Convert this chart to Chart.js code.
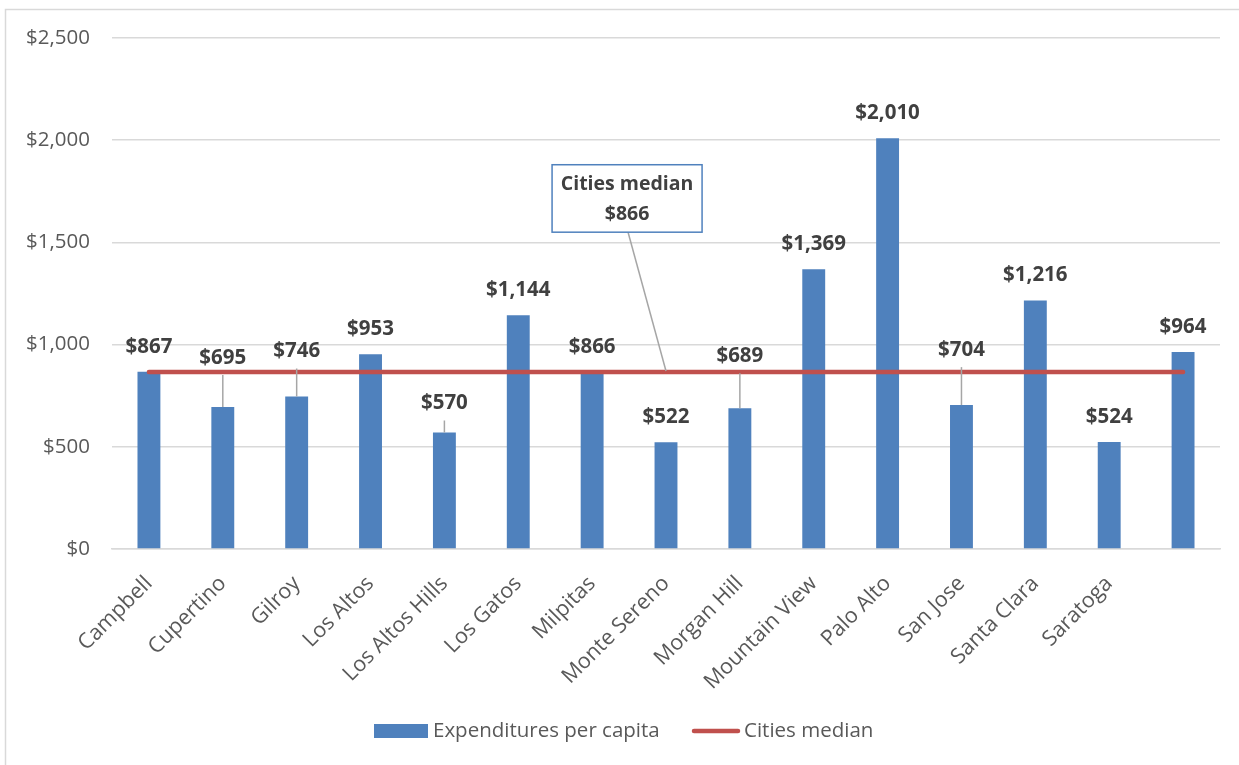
<!DOCTYPE html>
<html>
<head>
<meta charset="utf-8">
<script src="https://cdn.jsdelivr.net/npm/chart.js@4"></script>
<style>
  html, body { margin: 0; padding: 0; background: #fff; }
  #wrap { width: 1239px; height: 765px; }
</style>
</head>
<body>
<div id="wrap"><canvas id="chart" width="1239" height="765"></canvas></div>
<script>
const cities = ['Campbell', 'Cupertino', 'Gilroy', 'Los Altos', 'Los Altos Hills', 'Los Gatos', 'Milpitas',
  'Monte Sereno', 'Morgan Hill', 'Mountain View', 'Palo Alto', 'San Jose', 'Santa Clara', 'Saratoga', ''];
const perCapita = [867, 695, 746, 953, 570, 1144, 866, 522, 689, 1369, 2010, 704, 1216, 524, 964];
const medianLine = [866, 866, 866, 866, 866, 866, 866, 866, 866, 866, 866, 866, 866, 866, 866];
const medianValue = 866;
const yTicks = [0, 500, 1000, 1500, 2000, 2500];

// labels that were pulled up above the median line get a leader line back to the bar
const labelLift = [0, 24, 20, 0, 4, 0, 0, 0, 27, 0, 0, 30, 0, 0, 0];

const FONT = '"Open Sans", Lato, sans-serif';
const BLUE = '#4F81BD';
const RED = '#C0504D';
const money = v => '$' + Number(v).toLocaleString('en-US');

const frame = {
  id: 'frame',
  beforeDraw(chart) {
    const {ctx, width, height} = chart;
    ctx.save();
    ctx.fillStyle = '#fff';
    ctx.fillRect(0, 0, width, height);
    ctx.strokeStyle = '#D9D9D9';
    ctx.lineWidth = 1.5;
    ctx.beginPath();
    ctx.moveTo(5.5, height);
    ctx.lineTo(5.5, 9.5);
    ctx.lineTo(width, 9.5);
    ctx.stroke();
    ctx.restore();
  }
};

const barLabels = {
  id: 'barLabels',
  afterDatasetsDraw(chart) {
    const {ctx} = chart;
    const meta = chart.getDatasetMeta(0);
    ctx.save();
    ctx.font = 'bold 20.5px ' + FONT;
    ctx.fillStyle = '#404040';
    ctx.textAlign = 'center';
    ctx.textBaseline = 'middle';
    meta.data.forEach((bar, i) => {
      const cy = bar.y - 25 - labelLift[i];
      if (labelLift[i] > 0) {
        ctx.strokeStyle = '#A6A6A6';
        ctx.lineWidth = 1.5;
        ctx.beginPath();
        ctx.moveTo(bar.x, cy + 17);
        ctx.lineTo(bar.x, bar.y);
        ctx.stroke();
      }
      ctx.fillText(money(perCapita[i]), bar.x, cy);
    });

    // callout for the median line
    const xs = chart.scales.x, ys = chart.scales.y;
    const cx = xs.getPixelForValue(6.5) - 2;
    const top = ys.getPixelForValue(1880);
    const bottom = ys.getPixelForValue(1550);
    const left = cx - 75, right = cx + 75;
    ctx.strokeStyle = '#A6A6A6';
    ctx.lineWidth = 1.5;
    ctx.beginPath();
    ctx.moveTo(cx + 1, bottom);
    ctx.lineTo(xs.getPixelForValue(7), ys.getPixelForValue(medianValue) - 1);
    ctx.stroke();
    ctx.fillStyle = '#fff';
    ctx.fillRect(left, top, right - left, bottom - top);
    ctx.strokeStyle = BLUE;
    ctx.lineWidth = 1.5;
    ctx.strokeRect(left, top, right - left, bottom - top);
    ctx.fillStyle = '#404040';
    ctx.font = 'bold 19.5px ' + FONT;
    ctx.fillText('Cities median', cx, top + 20);
    ctx.fillText(money(medianValue), cx, top + 50);
    ctx.restore();
  }
};

const legendRow = {
  id: 'legendRow',
  afterDraw(chart) {
    const {ctx} = chart;
    const y = 731;
    ctx.save();
    ctx.font = '20.5px ' + FONT;
    ctx.textBaseline = 'middle';
    ctx.textAlign = 'left';
    ctx.fillStyle = BLUE;
    ctx.fillRect(374, y - 7, 54, 14);
    ctx.fillStyle = '#595959';
    ctx.fillText(chart.data.datasets[0].label, 433, y);
    ctx.strokeStyle = RED;
    ctx.lineWidth = 4.5;
    ctx.lineCap = 'round';
    ctx.beginPath();
    ctx.moveTo(694, y);
    ctx.lineTo(738, y);
    ctx.stroke();
    ctx.fillText(chart.data.datasets[1].label, 744, y);
    ctx.restore();
  }
};

new Chart(document.getElementById('chart'), {
  data: {
    labels: cities,
    datasets: [
      { type: 'bar', label: 'Expenditures per capita', data: perCapita, backgroundColor: BLUE,
        barPercentage: 0.31, categoryPercentage: 1, order: 2 },
      { type: 'line', label: 'Cities median', data: medianLine, borderColor: RED, borderWidth: 4.5,
        borderCapStyle: 'round', pointRadius: 0, tension: 0, order: 1 }
    ]
  },
  options: {
    responsive: false,
    animation: false,
    layout: { padding: { left: 0, top: 38, right: 19, bottom: 66 } },
    plugins: { legend: { display: false }, tooltip: { enabled: false } },
    scales: {
      x: {
        grid: { display: false, drawTicks: false },
        border: { color: '#D9D9D9', width: 1.5 },
        ticks: { color: '#595959', font: { family: FONT, size: 21.5 }, maxRotation: 45, minRotation: 45,
          autoSkip: false, padding: 22 },
        afterFit: s => { s.height = 150; }
      },
      y: {
        min: 0, max: 2500,
        afterBuildTicks: s => { s.ticks = yTicks.map(v => ({ value: v })); },
        grid: { color: '#D9D9D9', lineWidth: 1.5, drawTicks: false },
        border: { display: false },
        ticks: { color: '#595959', font: { family: FONT, size: 20.5 }, padding: 22, callback: v => money(v) },
        afterFit: s => { s.width = 112; }
      }
    }
  },
  plugins: [frame, barLabels, legendRow]
});
</script>
</body>
</html>
